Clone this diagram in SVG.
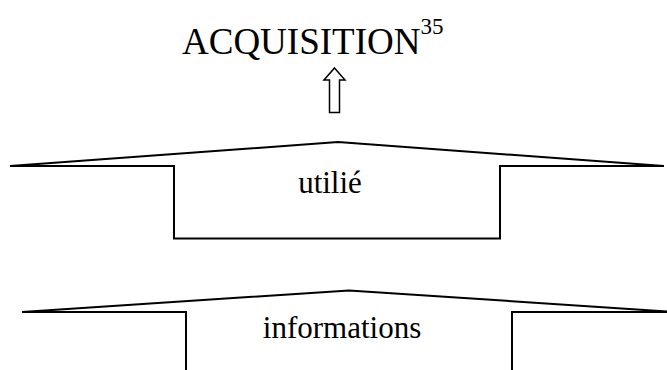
<svg xmlns="http://www.w3.org/2000/svg" width="667" height="370" viewBox="0 0 667 370">
<style>
.ln{fill:none;stroke:#000;stroke-width:2;stroke-linejoin:miter}
.t{font-family:"Liberation Serif","Times New Roman",serif;fill:#000}
</style>
<rect width="667" height="370" fill="#fff"/>
<g id="title">
<text class="t" x="182" y="54" font-size="37">ACQUISITION<tspan font-size="23" dy="-20">35</tspan></text>
</g>
<g id="connectors">
<polygon points="334.5,68 345,80 339.5,80 339.5,112.5 329.5,112.5 329.5,80 324,80" fill="#fff" stroke="#000" stroke-width="1.5"/>
</g>
<g id="utilie">
<polyline class="ln" points="10,166 338,142 664,166"/>
<polyline class="ln" points="10,166 174,166 174,238.5 500,238.5 500,166 664,166"/>
<text class="t" x="330" y="193" font-size="31" text-anchor="middle">utilié</text>
</g>
<g id="informations">
<polyline class="ln" points="22,312 349,290.5 676,312"/>
<polyline class="ln" points="22,312 186,312 186,372"/>
<polyline class="ln" points="512,372 512,312 676,312"/>
<text class="t" x="342" y="338" font-size="31" text-anchor="middle">informations</text>
</g>
</svg>
